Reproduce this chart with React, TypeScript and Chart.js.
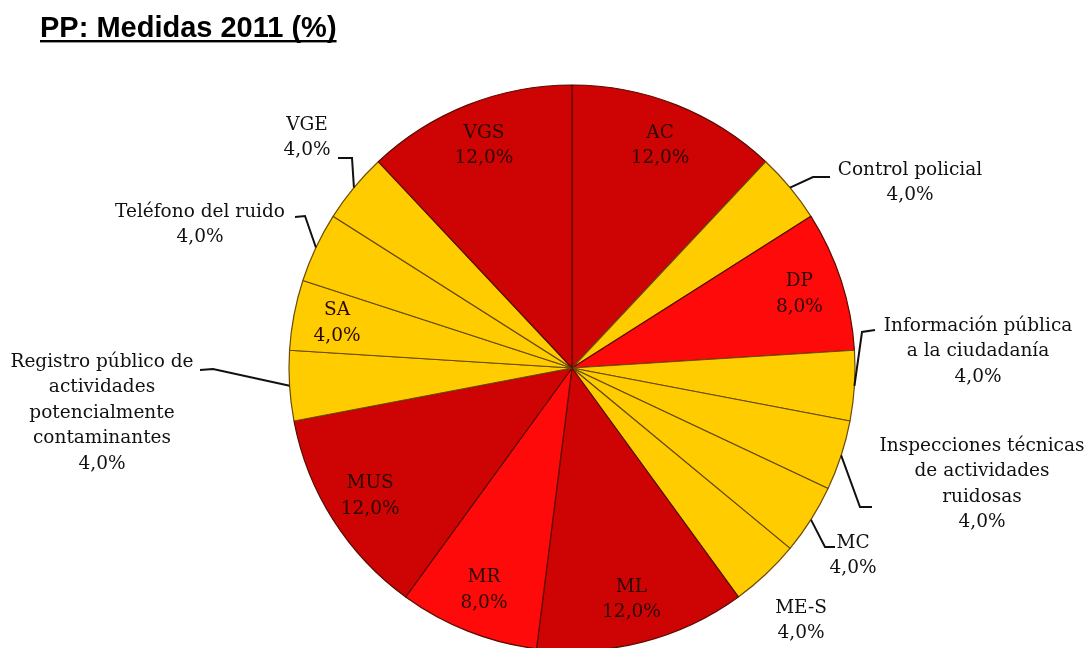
import React, { useEffect, useRef } from "react";
import { Chart, registerables } from "chart.js";

Chart.register(...registerables);

const TITLE = "PP: Medidas 2011 (%)";

const categories = [
  "AC",
  "Control policial",
  "DP",
  "Información pública a la ciudadanía",
  "Inspecciones técnicas de actividades ruidosas",
  "MC",
  "ME-S",
  "ML",
  "MR",
  "MUS",
  "Registro público de actividades potencialmente contaminantes",
  "SA",
  "Teléfono del ruido",
  "VGE",
  "VGS",
];

const values = [12, 4, 8, 4, 4, 4, 4, 12, 8, 12, 4, 4, 4, 4, 12];

const valueLabels = ["12,0%", "4,0%", "8,0%", "4,0%", "4,0%", "4,0%", "4,0%", "12,0%", "8,0%", "12,0%", "4,0%", "4,0%", "4,0%", "4,0%", "12,0%"];

const labelLines = [
  ["AC"],
  ["Control policial"],
  ["DP"],
  ["Información pública", "a la ciudadanía"],
  ["Inspecciones técnicas", "de actividades", "ruidosas"],
  ["MC"],
  ["ME-S"],
  ["ML"],
  ["MR"],
  ["MUS"],
  ["Registro público de", "actividades", "potencialmente", "contaminantes"],
  ["SA"],
  ["Teléfono del ruido"],
  ["VGE"],
  ["VGS"],
];

const colorGroup = ["dark", "yellow", "bright", "yellow", "yellow", "yellow", "yellow", "dark", "bright", "dark", "yellow", "yellow", "yellow", "yellow", "dark"];

// Label placement (layout only): inside labels sit along the slice bisector;
// outside labels are offsets from the pie centre with an elbow for the leader.
type Place = { inside: true } | { inside: false; tx: number; ty: number; ex?: number; ey?: number; lx?: number; ly?: number };
const placements: Place[] = [
  { inside: true },
  { inside: false, tx: 338, ty: -198, ex: 241, ey: -191, lx: 258, ly: -191 },
  { inside: true },
  { inside: false, tx: 406, ty: -42, ex: 290, ey: -36, lx: 303, ly: -38 },
  { inside: false, tx: 410, ty: 78, ex: 288, ey: 139, lx: 300, ly: 139 },
  { inside: false, tx: 281, ty: 175, ex: 253, ey: 179, lx: 263, ly: 179 },
  { inside: false, tx: 229, ty: 240 },
  { inside: true },
  { inside: true },
  { inside: true },
  { inside: false, tx: -470, ty: -6, ex: -359, ey: 1, lx: -372, ly: 2 },
  { inside: true },
  { inside: false, tx: -372, ty: -156, ex: -267, ey: -152, lx: -277, ly: -151 },
  { inside: false, tx: -265, ty: -243, ex: -220, ey: -210, lx: -234, ly: -210 },
  { inside: true },
];

const COLORS: Record<string, string> = {
  dark: "#CE0404",
  bright: "#FF0a0a",
  yellow: "#FFCC00",
};

const LABEL_FONT = '18.5px "DejaVu Serif", serif';
const LINE_H = 25.5;

const labelPlugin = {
  id: "customLabels",
  afterDatasetsDraw(chart: any) {
    const ctx = chart.ctx as CanvasRenderingContext2D;
    const meta = chart.getDatasetMeta(0);
    ctx.save();
    // Title
    ctx.font = 'bold 29px "Liberation Sans", Arial, sans-serif';
    ctx.fillStyle = "#000";
    ctx.textAlign = "left";
    ctx.textBaseline = "alphabetic";
    ctx.fillText(TITLE, 40, 37);
    const tw = ctx.measureText(TITLE).width;
    ctx.fillRect(40, 40, tw, 2.4);

    ctx.font = LABEL_FONT;
    ctx.textAlign = "center";
    ctx.textBaseline = "middle";
    meta.data.forEach((arc: any, i: number) => {
      const p = placements[i];
      const { x, y, startAngle, endAngle, outerRadius } = arc.getProps(["x", "y", "startAngle", "endAngle", "outerRadius"], true);
      const mid = (startAngle + endAngle) / 2;
      const lines = [...labelLines[i], valueLabels[i]];
      if (p.inside) {
        const r = outerRadius * 0.845;
        const cx = x + Math.cos(mid) * r;
        const cy = y + Math.sin(mid) * r;
        ctx.fillStyle = "#2a0800";
        const y0 = cy - ((lines.length - 1) * LINE_H) / 2;
        lines.forEach((t, k) => ctx.fillText(t, cx, y0 + k * LINE_H));
      } else {
        ctx.fillStyle = "#111";
        lines.forEach((t, k) => ctx.fillText(t, x + p.tx, y + p.ty + k * LINE_H));
        if (p.ex !== undefined) {
          const ax = x + Math.cos(mid) * outerRadius;
          const ay = y + Math.sin(mid) * outerRadius;
          ctx.beginPath();
          ctx.moveTo(ax, ay);
          ctx.lineTo(x + p.ex, y + (p.ey as number));
          ctx.lineTo(x + (p.lx as number), y + (p.ly as number));
          ctx.strokeStyle = "#111";
          ctx.lineWidth = 2;
          ctx.stroke();
        }
      }
    });
    ctx.restore();
  },
};

export default function App() {
  const ref = useRef<HTMLCanvasElement>(null);
  useEffect(() => {
    if (!ref.current) return;
    const chart = new Chart(ref.current, {
      type: "pie",
      data: {
        labels: categories,
        datasets: [
          {
            data: values,
            backgroundColor: (c: any) => {
              const g = colorGroup[c.dataIndex];
              if (g !== "yellow") return COLORS[g];
              const chartRef = c.chart;
              const el = chartRef.getDatasetMeta(0).data[c.dataIndex];
              if (!el || !el.outerRadius) return COLORS.yellow;
              const grad = chartRef.ctx.createRadialGradient(el.x, el.y, 0, el.x, el.y, el.outerRadius);
              grad.addColorStop(0, "#FFD000");
              grad.addColorStop(0.9, "#FFCC00");
              grad.addColorStop(1, "#F0B000");
              return grad;
            },
            borderColor: colorGroup.map((g) => (g === "yellow" ? "#6a4a08" : "#5a0c00")),
            borderWidth: 1.2,
            radius: 283,
          } as any,
        ],
      },
      options: {
        responsive: false,
        maintainAspectRatio: false,
        animation: false,
        layout: { padding: { left: 289, right: 232, top: 88, bottom: 0 } },
        plugins: {
          legend: { display: false },
          tooltip: { enabled: false },
          title: { display: false },
        },
      },
      plugins: [labelPlugin],
    });
    return () => chart.destroy();
  }, []);
  return (
    <div style={{ position: "fixed", left: 0, top: 0, width: 1087, height: 648, background: "#fff" }}>
      <canvas ref={ref} width={1087} height={648} style={{ width: 1087, height: 648, display: "block" }} />
    </div>
  );
}
